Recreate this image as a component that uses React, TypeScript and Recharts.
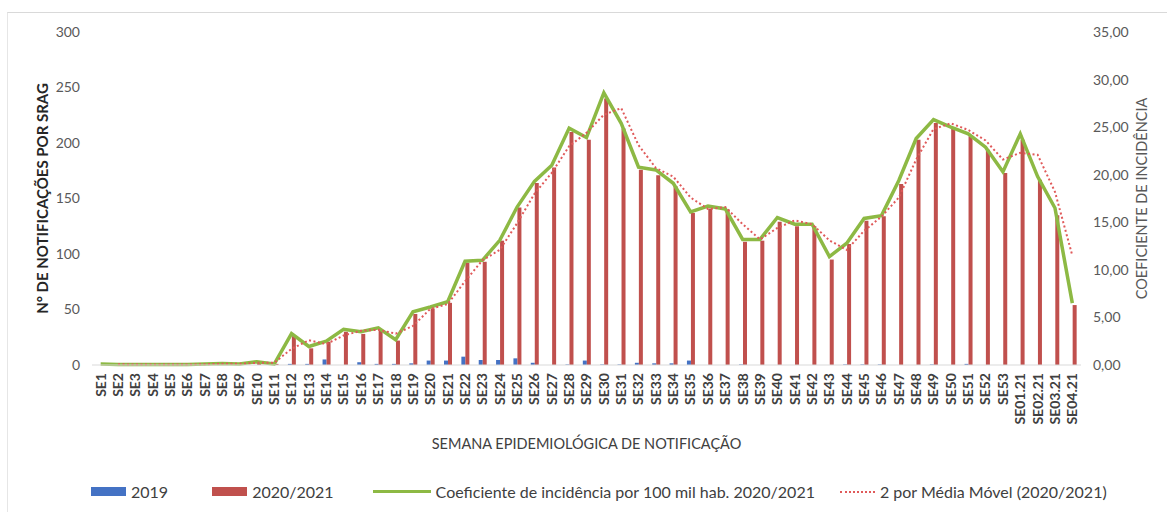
import {
  ComposedChart,
  Bar,
  Line,
  XAxis,
  YAxis,
  Legend,
} from "recharts";

const weeks = [
  "SE1", "SE2", "SE3", "SE4", "SE5", "SE6", "SE7", "SE8", "SE9", "SE10",
  "SE11", "SE12", "SE13", "SE14", "SE15", "SE16", "SE17", "SE18", "SE19", "SE20",
  "SE21", "SE22", "SE23", "SE24", "SE25", "SE26", "SE27", "SE28", "SE29", "SE30",
  "SE31", "SE32", "SE33", "SE34", "SE35", "SE36", "SE37", "SE38", "SE39", "SE40",
  "SE41", "SE42", "SE43", "SE44", "SE45", "SE46", "SE47", "SE48", "SE49", "SE50",
  "SE51", "SE52", "SE53", "SE01.21", "SE02.21", "SE03.21", "SE04.21",
];

const cases2019 = [
  0, 0, 0, 0, 0, 0, 0, 0, 0, 0,
  0, 1, 1, 5, 0, 2.5, 1, 1, 1.5, 4,
  4, 7.5, 4.5, 4.5, 6, 2, 0, 0.5, 4, 0.5,
  0.5, 2, 1.5, 1.5, 4, 0, 0, 0.5, 0, 0,
  0, 0, 0, 0.5, 0.5, 0.5, 0, 0, 0.5, 0,
  1, 0, 0, 0, 0, 0, 0,
];

const cases2020 = [
  1, 0, 0, 0, 0, 0, 1, 1, 1, 3,
  1, 26, 15, 21, 30, 28, 31, 22, 46, 51,
  56, 92, 93, 112, 142, 164, 178, 210, 203, 240,
  213, 176, 171, 161, 137, 141, 140, 111, 112, 129,
  125, 125, 95, 109, 130, 134, 163, 203, 218, 213,
  206, 194, 173, 203, 167, 135, 54,
];

const incidence = [
  0.1, 0.05, 0.05, 0.05, 0.05, 0.05, 0.1, 0.15, 0.1, 0.35,
  0.1, 3.3, 1.95, 2.5, 3.75, 3.5, 3.9, 2.65, 5.6, 6.1,
  6.65, 10.9, 11.0, 13.1, 16.6, 19.3, 21.0, 24.9, 23.9, 28.6,
  25.4, 20.8, 20.5, 19.1, 16.1, 16.7, 16.4, 13.2, 13.2, 15.5,
  14.8, 14.8, 11.4, 12.8, 15.4, 15.7, 19.4, 23.8, 25.8, 25.0,
  24.3, 22.9, 20.3, 24.3, 19.8, 16.5, 6.5,
];

// trendline (first week has no point)
const movingAvg = [
  null, 0.08, 0.05, 0.05, 0.05, 0.05, 0.08, 0.13, 0.13, 0.23,
  0.23, 1.7, 2.6, 2.2, 3.1, 3.6, 3.7, 3.3, 4.1, 5.9,
  6.4, 8.8, 11.0, 12.1, 14.9, 18.0, 20.2, 23.0, 24.4, 26.3,
  27.0, 23.1, 20.7, 19.8, 17.6, 16.4, 16.6, 14.8, 13.2, 14.4,
  15.2, 14.8, 13.1, 12.1, 14.1, 15.6, 17.6, 21.6, 24.8, 25.4,
  24.7, 23.6, 21.6, 22.3, 22.1, 18.2, 11.5,
];

const leftTicks = [0, 50, 100, 150, 200, 250, 300];
const rightTicks = [0, 5, 10, 15, 20, 25, 30, 35];

const data = weeks.map((w, i) => ({
  week: w,
  y2019: cases2019[i],
  y2020: cases2020[i],
  coef: incidence[i],
  mm: movingAvg[i],
}));

const FONT = "Lato, 'Open Sans', sans-serif";

const WeekTick = ({ x, y, payload }: any) => (
  <text
    x={x}
    y={y}
    dy="0.35em"
    transform={`rotate(-90, ${x}, ${y})`}
    textAnchor="end"
    fontSize={14}
    fontWeight="bold"
    fill="#404040"
    fontFamily={FONT}
  >
    {payload.value}
  </text>
);

const legendItems = [
  { label: "2019", kind: "bar", color: "#4472C4", gap: 44 },
  { label: "2020/2021", kind: "bar", color: "#C0504D", gap: 39 },
  { label: "Coeficiente de incidência por 100 mil hab. 2020/2021", kind: "line", color: "#8DB944", gap: 25 },
  { label: "2 por Média Móvel (2020/2021)", kind: "dot", color: "#E05A5A", gap: 0 },
];

const LegendBox = () => (
  <div
    style={{
      display: "flex",
      alignItems: "center",
      paddingLeft: 91,
      fontFamily: FONT,
      fontSize: 16,
      color: "#404040",
    }}
  >
    {legendItems.map((it) => (
      <div
        key={it.label}
        style={{ display: "flex", alignItems: "center", gap: 5, marginRight: it.gap }}
      >
        {it.kind === "bar" && (
          <span style={{ display: "inline-block", width: 35, height: 9, background: it.color }} />
        )}
        {it.kind === "line" && (
          <span style={{ display: "inline-block", width: 58, height: 3, background: it.color }} />
        )}
        {it.kind === "dot" && (
          <span
            style={{
              display: "inline-block",
              width: 35,
              height: 0,
              borderTop: `2px dotted ${it.color}`,
            }}
          />
        )}
        <span>{it.label}</span>
      </div>
    ))}
  </div>
);

const fmtComma = (v: number) => v.toFixed(2).replace(".", ",");

export default function App() {
  return (
    <div
      style={{
        position: "absolute",
        left: 0,
        top: 0,
        width: 1167,
        height: 512,
        background: "#fff",
        overflow: "hidden",
      }}
    >
      <div
        style={{
          position: "absolute",
          left: 7,
          top: 12,
          right: 0,
          bottom: -2,
          borderLeft: "1px solid #E6E6E6",
          borderTop: "1px solid #D9D9D9",
        }}
      />
      <ComposedChart
        width={1167}
        height={512}
        data={data}
        margin={{ top: 32, right: 16, bottom: 63, left: 32 }}
        barGap={0}
        style={{ fontFamily: FONT }}
      >
        <XAxis
          dataKey="week"
          interval={0}
          tick={<WeekTick />}
          tickLine={false}
          axisLine={{ stroke: "#D9D9D9" }}
          height={84}
          label={{
            value: "SEMANA EPIDEMIOLÓGICA DE NOTIFICAÇÃO",
            position: "insideBottom",
            offset: 0,
            fill: "#404040",
            fontSize: 14.5,
          }}
        />
        <YAxis
          yAxisId="left"
          domain={[0, 300]}
          ticks={leftTicks}
          width={60}
          tickLine={false}
          axisLine={false}
          tickMargin={6}
          tick={{ fill: "#595959", fontSize: 14 }}
          label={{
            value: "N° DE NOTIFICAÇÕES POR SRAG",
            angle: -90,
            position: "insideLeft",
            offset: 11,
            fill: "#262626",
            fontSize: 15,
            fontWeight: "bold",
            style: { textAnchor: "middle" },
          }}
        />
        <YAxis
          yAxisId="right"
          orientation="right"
          domain={[0, 35]}
          ticks={rightTicks}
          width={70}
          tickLine={false}
          axisLine={false}
          tickMargin={6}
          tickFormatter={fmtComma}
          tick={{ fill: "#595959", fontSize: 14 }}
          label={{
            value: "COEFICIENTE DE INCIDÊNCIA",
            angle: -90,
            position: "insideRight",
            offset: 9,
            fill: "#595959",
            fontSize: 14.5,
            style: { textAnchor: "middle" },
          }}
        />
        <Legend
          verticalAlign="middle"
          align="center"
          layout="horizontal"
          wrapperStyle={{ top: 482, left: 0, width: 1167 }}
          content={<LegendBox />}
        />
        <Bar
          yAxisId="left"
          dataKey="y2019"
          name="2019"
          fill="#4472C4"
          barSize={4}
          isAnimationActive={false}
        />
        <Bar
          yAxisId="left"
          dataKey="y2020"
          name="2020/2021"
          fill="#C0504D"
          barSize={4}
          isAnimationActive={false}
        />
        <Line
          yAxisId="right"
          dataKey="coef"
          name="Coeficiente de incidência por 100 mil hab. 2020/2021"
          stroke="#8DB944"
          strokeWidth={3.5}
          dot={false}
          activeDot={false}
          strokeLinejoin="miter"
          isAnimationActive={false}
        />
        <Line
          yAxisId="right"
          dataKey="mm"
          name="2 por Média Móvel (2020/2021)"
          stroke="#E05A5A"
          strokeWidth={2}
          strokeDasharray="2 2.5"
          dot={false}
          activeDot={false}
          connectNulls={false}
          isAnimationActive={false}
        />
      </ComposedChart>
    </div>
  );
}
